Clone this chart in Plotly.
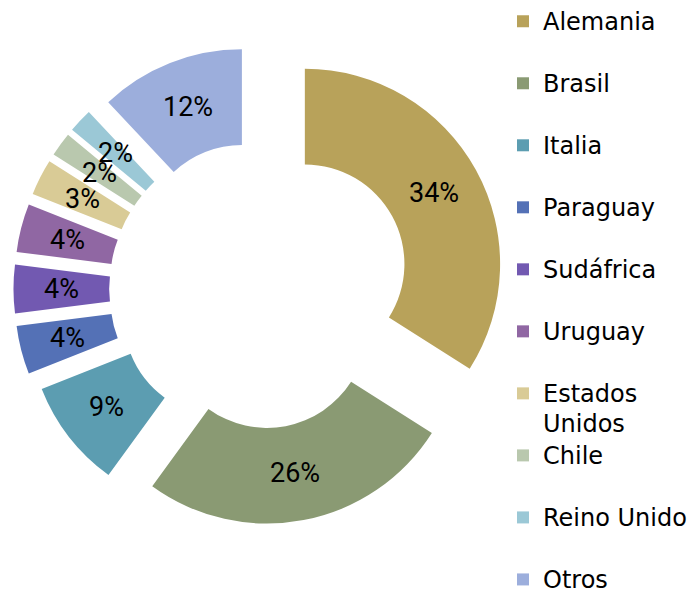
import math
import plotly.graph_objects as go

# Data
countries = ["Alemania", "Brasil", "Italia", "Paraguay", "Sudáfrica", "Uruguay",
             "Estados Unidos", "Chile", "Reino Unido", "Otros"]
shares = [34, 26, 9, 4, 4, 4, 3, 2, 2, 12]

# Styles
colors = ["#B8A25A", "#8A9A73", "#5C9DB1", "#5471B6", "#7259B1", "#9067A3",
          "#D9CB96", "#B9C8AE", "#9BC8D6", "#9CAEDC"]
pulls = [0.265, 0.205, 0.235, 0.26, 0.26, 0.26, 0.26, 0.26, 0.26, 0.245]
HOLE = 0.51
W, H = 696, 589
DOM_X = [0.006466, 0.716236]
DOM_Y = [0.103565, 0.942275]


def legend_text(name):
    sp = "<span style='font-size:24px'>{}</span>"
    if " " in name and name != "Reino Unido":
        a, b = name.split(" ", 1)
        return sp.format(a) + "<br>" + sp.format(b)
    return sp.format(name) + "<br> "


fig = go.Figure(go.Pie(
    labels=[legend_text(c) for c in countries],
    values=shares,
    sort=False,
    direction="clockwise",
    rotation=0,
    hole=HOLE,
    pull=pulls,
    marker=dict(colors=colors, line=dict(width=0)),
    textinfo="none",
    hoverinfo="label+percent",
    domain=dict(x=DOM_X, y=DOM_Y),
))

# Percentage labels at the middle of each (pulled) ring segment,
# following the pie geometry derived from the data
box_w = (DOM_X[1] - DOM_X[0]) * W
box_h = (DOM_Y[1] - DOM_Y[0]) * H
R = min(box_w, box_h) / (2 + 2 * max(pulls))
cx = (DOM_X[0] + DOM_X[1]) / 2 * W
cy = (1 - (DOM_Y[0] + DOM_Y[1]) / 2) * H
r_label = R * (1 + HOLE) / 2
total = sum(shares)
cum = 0
for v, p in zip(shares, pulls):
    mid = 2 * math.pi * (cum + v / 2) / total
    cum += v
    dx, dy = math.sin(mid), -math.cos(mid)
    px = cx + (p * R + r_label) * dx
    py = cy + (p * R + r_label) * dy
    fig.add_annotation(
        x=px / W, y=1 - py / H, xref="paper", yref="paper",
        text=f"{round(100 * v / total)}%", showarrow=False,
        xanchor="center", yanchor="middle",
        font=dict(family="Roboto", size=27, color="black"),
    )

fig.update_layout(
    width=W, height=H,
    margin=dict(l=0, r=0, t=0, b=0, autoexpand=False),
    paper_bgcolor="white",
    plot_bgcolor="white",
    legend=dict(
        x=0.71121, y=1.01358, xanchor="left", yanchor="top",
        valign="top",
        font=dict(family="DejaVu Sans", size=22.7, color="black"),
        bgcolor="rgba(0,0,0,0)",
        maxheight=900,
    ),
)

fig.write_html("out.html")
